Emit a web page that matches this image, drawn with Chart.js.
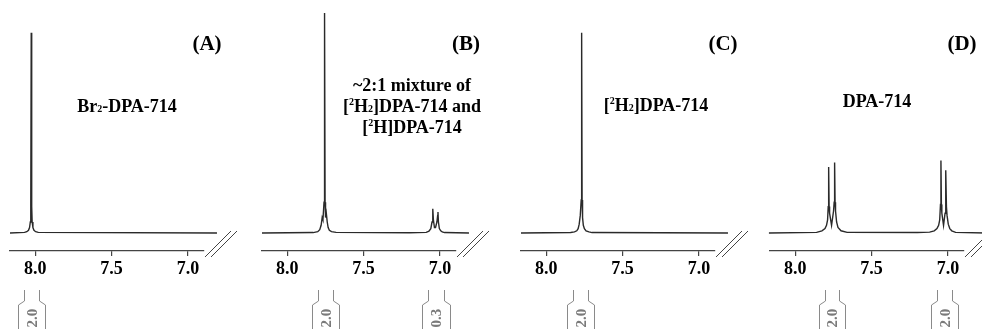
<!DOCTYPE html>
<html>
<head>
<meta charset="utf-8">
<script src="https://cdn.jsdelivr.net/npm/chart.js@4.4.1/dist/chart.umd.min.js"></script>
<style>
  html, body { margin: 0; padding: 0; background: #fff; width: 982px; height: 329px; overflow: hidden; }
  .panel { position: absolute; top: 0; width: 250px; height: 329px; }
</style>
</head>
<body>
<div class="panel" style="left:0px"><canvas id="cA"></canvas></div>
<div class="panel" style="left:252px"><canvas id="cB"></canvas></div>
<div class="panel" style="left:511px"><canvas id="cC"></canvas></div>
<div class="panel" style="left:760px"><canvas id="cD"></canvas></div>
<script>
// chemical shift (ppm) and intensity
const ppmA = [8.165, 8.07, 8.055, 8.044, 8.037, 8.032, 8.029, 8.026, 8.023, 8.020, 8.015, 8.008, 7.997, 7.98, 6.81];
const intA = [0, 0.3, 0.6, 1.2, 2.5, 5, 12, 91, 12, 5, 2.5, 1.2, 0.6, 0.3, 0];

const ppmB = [8.165, 7.83, 7.80, 7.787, 7.778, 7.771, 7.766, 7.759, 7.7555, 7.752, 7.749, 7.744, 7.738, 7.732, 7.724, 7.71, 7.68, 7.2,
              7.09, 7.072, 7.060, 7.052, 7.048, 7.046, 7.043, 7.036, 7.029, 7.020, 7.015, 7.013, 7.010, 7.004, 6.995, 6.985, 6.97, 6.81];
const intB = [0, 0.2, 0.6, 1.5, 3.5, 7, 6, 14, 100, 14, 7, 9, 5, 2.5, 1.2, 0.6, 0.3, 0.1,
              0.3, 0.8, 2, 5, 9, 11, 6, 2.5, 2.5, 5, 8, 9.5, 5, 2, 1, 0.5, 0.2, 0];

const ppmC = [8.165, 7.84, 7.815, 7.800, 7.791, 7.784, 7.777, 7.771, 7.768, 7.765, 7.762, 7.757, 7.750, 7.739, 7.72, 7.70, 6.81];
const intC = [0, 0.2, 0.5, 1.0, 2, 4, 8, 15, 91, 15, 7, 3.5, 2, 1, 0.5, 0.2, 0];

const ppmD = [8.172, 7.86, 7.825, 7.805, 7.795, 7.788, 7.784, 7.781, 7.778, 7.775, 7.762, 7.749, 7.745, 7.742, 7.739, 7.736, 7.729, 7.72, 7.70, 7.66, 7.2,
              7.12, 7.09, 7.072, 7.061, 7.054, 7.049, 7.046, 7.043, 7.040, 7.029, 7.019, 7.016, 7.013, 7.010, 7.006, 6.998, 6.988, 6.975, 6.95, 6.75];
const intD = [0, 0.3, 1, 2, 3.5, 6, 12, 30, 12, 9, 3.5, 10, 14, 32, 14, 10, 5, 2.5, 1, 0.3, 0.2,
              0.4, 1, 2, 3.5, 6, 13, 33, 13, 9, 3.5, 9, 12, 28.5, 12, 8, 4, 2, 1, 0.3, 0];

// integration regions [from, to] in ppm and their values
const integA = [[8.072, 7.974]];
const integValA = ['2.0'];
const integB = [[7.796, 7.697], [7.079, 6.974]];
const integValB = ['2.0', '0.3'];
const integC = [[7.822, 7.724]];
const integValC = ['2.0'];
const integD = [[7.808, 7.715], [7.073, 6.974]];
const integValD = ['2.0', '2.0'];

const panelTags = ['(A)', '(B)', '(C)', '(D)'];
// ^x = superscript, _x = subscript
const compoundNames = [
  'Br_2-DPA-714',
  '~2:1 mixture of\n[^2H_2]DPA-714 and\n[^2H]DPA-714',
  '[^2H_2]DPA-714',
  'DPA-714'
];

const tickStep = 0.5;
const xLeft = 8.165, xRight = 6.895;

const SERIF = "'Liberation Serif', 'Times New Roman', serif";

function drawRich(ctx, str, cx, cy, size) {
  const runs = [];
  for (let i = 0; i < str.length; i++) {
    const c = str[i];
    if ((c === '^' || c === '_') && i + 1 < str.length) {
      runs.push({ t: str[i + 1], k: c });
      i++;
    } else if (runs.length && !runs[runs.length - 1].k) {
      runs[runs.length - 1].t += c;
    } else {
      runs.push({ t: c, k: null });
    }
  }
  const small = Math.round(size * 0.58);
  let total = 0;
  runs.forEach(r => {
    ctx.font = 'bold ' + (r.k ? small : size) + 'px ' + SERIF;
    r.w = ctx.measureText(r.t).width;
    total += r.w;
  });
  let x = cx - total / 2;
  const base = cy + size * 0.33;
  ctx.textBaseline = 'alphabetic';
  ctx.textAlign = 'left';
  runs.forEach(r => {
    ctx.font = 'bold ' + (r.k ? small : size) + 'px ' + SERIF;
    let y = base;
    if (r.k === '^') y = base - size * 0.36;
    if (r.k === '_') y = base + size * 0.02;
    ctx.fillText(r.t, x, y);
    x += r.w;
  });
}

const decoPlugin = {
  id: 'nmrDeco',
  afterDraw(chart, args, opts) {
    const ctx = chart.ctx;
    const xs = chart.scales.x;
    const area = chart.chartArea;
    ctx.save();

    // axis break marks
    ctx.strokeStyle = '#444';
    ctx.lineWidth = 1;
    [0, 6].forEach(d => {
      ctx.beginPath();
      ctx.moveTo(area.right + 1 + d, area.bottom + 6);
      ctx.lineTo(area.right + 27 + d, area.bottom - 20);
      ctx.stroke();
    });

    // integration brackets
    ctx.strokeStyle = '#8a8a8a';
    ctx.fillStyle = '#7a7a7a';
    opts.integ.forEach((rg, i) => {
      const a = Math.round(xs.getPixelForValue(rg[0])) + 0.5;
      const b = Math.round(xs.getPixelForValue(rg[1])) + 0.5;
      ctx.beginPath();
      ctx.moveTo(a, 290); ctx.lineTo(a, 301); ctx.lineTo(a - 6, 305); ctx.lineTo(a - 6, 335);
      ctx.moveTo(b, 290); ctx.lineTo(b, 301); ctx.lineTo(b + 6, 305); ctx.lineTo(b + 6, 335);
      ctx.stroke();
      ctx.save();
      ctx.translate((a + b) / 2, 318);
      ctx.rotate(-Math.PI / 2);
      ctx.font = 'bold 15px ' + SERIF;
      ctx.textAlign = 'center';
      ctx.textBaseline = 'middle';
      ctx.fillText(opts.integVal[i], 0, 1);
      ctx.restore();
    });

    // panel tag and compound name
    ctx.fillStyle = '#000';
    drawRich(ctx, opts.tag, opts.tagX, 43, 21);
    const lines = opts.name.split('\n');
    lines.forEach((ln, i) => drawRich(ctx, ln, opts.nameX, opts.nameY + i * 21, 18));
    ctx.restore();
  }
};

function makeChart(id, ppm, inten, integ, integVal, idx, tagX, nameX, nameY) {
  const pts = ppm.map((p, i) => ({ x: p, y: inten[i] }));
  return new Chart(document.getElementById(id), {
    type: 'line',
    data: {
      datasets: [{
        data: pts,
        borderColor: '#2a2a2a',
        borderWidth: 1.4,
        pointRadius: 0,
        tension: 0,
        clip: false
      }]
    },
    options: {
      responsive: true,
      maintainAspectRatio: false,
      animation: false,
      events: [],
      layout: { padding: { left: 10, right: 46, top: 13, bottom: 0 } },
      plugins: {
        legend: { display: false },
        tooltip: { enabled: false },
        nmrDeco: {
          integ: integ, integVal: integVal,
          tag: panelTags[idx], tagX: tagX,
          name: compoundNames[idx], nameX: nameX, nameY: nameY
        }
      },
      scales: {
        x: {
          type: 'linear',
          reverse: true,
          min: xRight,
          max: xLeft,
          afterFit(s) { s.height = 78; },
          border: { display: true, color: '#444', width: 1.2 },
          grid: { drawOnChartArea: false, drawTicks: true, tickLength: 5, color: '#444', lineWidth: 1.2 },
          ticks: {
            stepSize: tickStep,
            includeBounds: false,
            maxRotation: 0,
            padding: 3,
            color: '#000',
            font: { family: SERIF, size: 18, weight: 'bold' },
            callback: v => Number(v).toFixed(1)
          }
        },
        y: { display: false, min: -8.18, max: 100 }
      }
    },
    plugins: [decoPlugin]
  });
}

makeChart('cA', ppmA, intA, integA, integValA, 0, 207, 127, 106);
makeChart('cB', ppmB, intB, integB, integValB, 1, 214, 160, 85);
makeChart('cC', ppmC, intC, integC, integValC, 2, 212, 145, 105);
makeChart('cD', ppmD, intD, integD, integValD, 3, 202, 117, 101);
</script>
</body>
</html>
